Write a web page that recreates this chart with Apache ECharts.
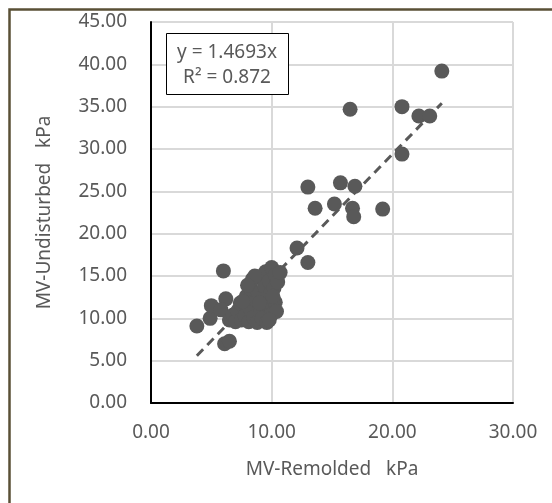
<!DOCTYPE html>
<html>
<head>
<meta charset="utf-8">
<script src="https://cdn.jsdelivr.net/npm/echarts@6/dist/echarts.min.js"></script>
<style>
html,body{margin:0;padding:0;background:#fff;}
#c{width:552px;height:503px;}
</style>
</head>
<body>
<div id="c"></div>
<script>
// MV-Remolded (kPa)
const remolded = [
  24.1, 16.5, 20.8, 22.2, 23.1, 20.8,
  13.0, 15.7, 16.9, 13.6, 15.2, 16.7, 16.8, 19.2,
  12.1, 13.0,
  3.8, 4.9, 5.0, 6.2, 6.0, 6.1, 6.5, 5.8, 6.5,
  6.8, 7.0, 7.2, 7.5, 7.4, 7.8, 7.9, 8.1, 8.2, 8.3, 8.4, 8.5, 8.7, 8.8, 8.9, 9.0,
  9.1, 9.2, 9.3, 9.4, 9.5, 9.6, 9.7, 9.8, 9.9, 10.0, 10.0, 10.2, 10.3, 10.3, 10.5,
  10.7, 10.4, 9.8, 8.6, 7.6, 8.0, 9.0, 10.1
];
// MV-Undisturbed (kPa)
const undisturbed = [
  39.2, 34.7, 35.0, 33.9, 33.9, 29.4,
  25.5, 26.0, 25.6, 23.0, 23.5, 23.0, 22.0, 22.9,
  18.3, 16.6,
  9.1, 10.0, 11.5, 12.3, 15.6, 7.0, 7.3, 11.0, 9.8,
  10.4, 9.6, 10.9, 9.8, 11.8, 10.3, 12.6, 9.6, 11.2, 13.4, 14.6, 10.1, 12.1, 9.5, 13.0, 14.9,
  11.0, 10.0, 12.5, 13.8, 15.5, 9.5, 11.7, 14.4, 12.9, 16.0, 10.5, 13.6, 15.1, 11.9, 14.3,
  15.4, 10.8, 9.8, 15.0, 12.0, 13.9, 11.8, 12.6
];
const slope = 1.4693;
const r2 = 0.872;
const xTicks = [0, 10, 20, 30];
const yTicks = [0, 5, 10, 15, 20, 25, 30, 35, 40, 45];

const points = remolded.map((x, i) => [x, undisturbed[i]]);
const xMin = Math.min(...remolded), xMax = Math.max(...remolded);
const trend = [[xMin, slope * xMin], [xMax, slope * xMax]];

const FONT = 'Noto Sans';
const TXT = '#595959';

const chart = echarts.init(document.getElementById('c'), null, {renderer: 'canvas'});
chart.setOption({
  animation: false,
  backgroundColor: '#ffffff',
  grid: {left: 151, right: 39, top: 22, bottom: 100, containLabel: false},
  xAxis: {
    type: 'value', min: xTicks[0], max: xTicks[xTicks.length - 1], interval: 10,
    name: 'MV-Remolded   kPa', nameLocation: 'middle', nameGap: 57,
    nameTextStyle: {fontFamily: FONT, fontSize: 19, color: TXT},
    axisLine: {show: true, lineStyle: {color: '#000', width: 2}},
    axisTick: {show: false},
    axisLabel: {fontFamily: FONT, fontSize: 19, color: TXT, margin: 20,
      formatter: v => v.toFixed(2)},
    splitLine: {show: true, lineStyle: {color: '#d9d9d9', width: 2}}
  },
  yAxis: {
    type: 'value', min: yTicks[0], max: yTicks[yTicks.length - 1], interval: 5,
    name: 'MV-Undisturbed   kPa', nameLocation: 'middle', nameGap: 97,
    nameTextStyle: {fontFamily: FONT, fontSize: 19, color: TXT},
    axisLine: {show: true, lineStyle: {color: '#000', width: 2}},
    axisTick: {show: false},
    axisLabel: {fontFamily: FONT, fontSize: 19, color: TXT, margin: 24,
      formatter: v => v.toFixed(2)},
    splitLine: {show: true, lineStyle: {color: '#d9d9d9', width: 2}}
  },
  series: [
    {
      type: 'line', data: trend, symbol: 'none', silent: true, z: 3,
      lineStyle: {color: '#595959', width: 3, type: [9, 6]}
    },
    {
      type: 'scatter', data: points, symbol: 'circle', symbolSize: 15, z: 4,
      itemStyle: {color: '#595959', opacity: 1}
    }
  ],
  graphic: [
    {type: 'rect', left: 7, top: 7, shape: {width: 600, height: 600},
      style: {fill: 'none', stroke: '#595036', lineWidth: 2.5}, z: 100},
    {type: 'rect', left: 166, top: 33, shape: {width: 122, height: 61},
      style: {fill: '#ffffff', stroke: '#000', lineWidth: 1}, z: 50},
    {type: 'text', x: 227, y: 53, z: 51,
      style: {text: 'y = 1.4693x', fontFamily: FONT, fontSize: 19, fill: TXT,
        textAlign: 'center', textVerticalAlign: 'middle'}},
    {type: 'text', x: 227, y: 78, z: 51,
      style: {text: 'R² = ' + r2, fontFamily: FONT, fontSize: 19, fill: TXT,
        textAlign: 'center', textVerticalAlign: 'middle'}}
  ]
});
</script>
</body>
</html>
